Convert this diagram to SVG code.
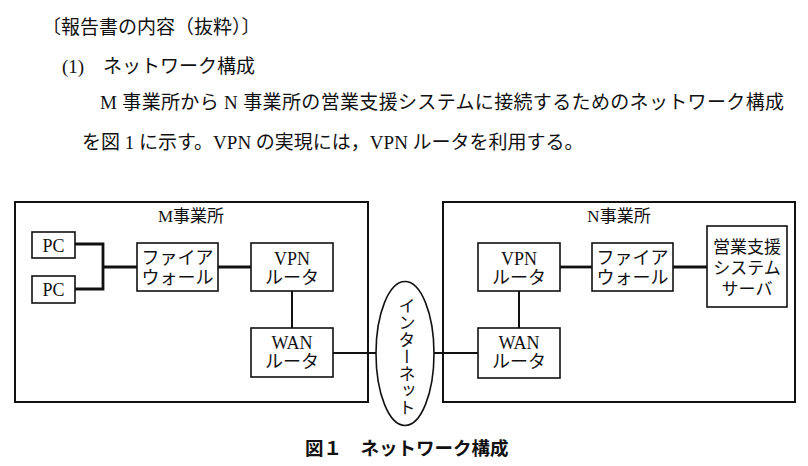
<svg xmlns="http://www.w3.org/2000/svg" width="808" height="466" viewBox="0 0 808 466">
<style>
  .t { font-family: "Liberation Serif", "Noto Sans CJK JP", serif; fill: #111; }
  .h { font-size: 19px; }
  .n { font-size: 18px; text-anchor: middle; }
  .cap { font-family: "Noto Sans CJK JP", "Liberation Sans", sans-serif; font-size: 18.5px; font-weight: bold; fill: #111; }
  .box { fill: #fff; stroke: #111; stroke-width: 1.6; }
  .office { fill: none; stroke: #111; stroke-width: 2; }
  .thick { fill: none; stroke: #111; stroke-width: 2.8; }
  .thin { fill: none; stroke: #111; stroke-width: 2; }
</style>
<rect width="808" height="466" fill="#fff"/>

<g id="header">
  <text class="t h" x="42" y="34">〔報告書の内容（抜粋）〕</text>
  <text class="t h" x="62" y="73">(1)</text>
  <text class="t h" x="103" y="73">ネットワーク構成</text>
  <text class="t h" x="100" y="109" textLength="684" lengthAdjust="spacing">M 事業所から N 事業所の営業支援システムに接続するためのネットワーク構成</text>
  <text class="t h" x="82" y="149">を図 1 に示す。VPN の実現には，VPN ルータを利用する。</text>
</g>

<g id="office-m">
  <rect class="office" x="15" y="202" width="353" height="200"/>
  <text class="t n" x="191" y="222" style="font-size:17px">M事業所</text>
</g>
<g id="office-n">
  <rect class="office" x="443" y="202" width="352" height="200"/>
  <text class="t n" x="619" y="222" style="font-size:17px">N事業所</text>
</g>

<g id="connectors">
  <polyline class="thick" points="75,244 103,244 103,289 75,289"/>
  <line class="thick" x1="103" y1="267" x2="137" y2="267"/>
  <line class="thick" x1="218" y1="267" x2="251" y2="267"/>
  <line class="thin" x1="292" y1="291" x2="292" y2="328"/>
  <line class="thin" x1="333" y1="353" x2="376" y2="353"/>
  <line class="thin" x1="434" y1="353" x2="478" y2="353"/>
  <line class="thin" x1="519" y1="328" x2="519" y2="291"/>
  <line class="thick" x1="560" y1="267" x2="592" y2="267"/>
  <line class="thick" x1="673" y1="267" x2="707" y2="267"/>
</g>

<g id="pc1">
  <rect class="box" x="32" y="232" width="43" height="26"/>
  <text class="t n" x="53.5" y="252">PC</text>
</g>
<g id="pc2">
  <rect class="box" x="32" y="276" width="43" height="27"/>
  <text class="t n" x="53.5" y="296">PC</text>
</g>
<g id="firewall-m">
  <rect class="box" x="137" y="243" width="81" height="48"/>
  <text class="t n" x="177.5" y="264">ファイア</text>
  <text class="t n" x="177.5" y="284">ウォール</text>
</g>
<g id="vpn-router-m">
  <rect class="box" x="251" y="243" width="82" height="48"/>
  <text class="t n" x="292" y="265">VPN</text>
  <text class="t n" x="292" y="284">ルータ</text>
</g>
<g id="wan-router-m">
  <rect class="box" x="251" y="328" width="82" height="49"/>
  <text class="t n" x="292" y="349">WAN</text>
  <text class="t n" x="292" y="368">ルータ</text>
</g>

<g id="internet">
  <ellipse class="box" cx="405" cy="353.5" rx="29" ry="72"/>
  <text class="t" x="405" y="357" writing-mode="vertical-rl" text-anchor="middle" style="font-size:17px">インターネット</text>
</g>

<g id="vpn-router-n">
  <rect class="box" x="478" y="243" width="82" height="48"/>
  <text class="t n" x="519" y="265">VPN</text>
  <text class="t n" x="519" y="284">ルータ</text>
</g>
<g id="wan-router-n">
  <rect class="box" x="478" y="328" width="82" height="50"/>
  <text class="t n" x="519" y="349">WAN</text>
  <text class="t n" x="519" y="368">ルータ</text>
</g>
<g id="firewall-n">
  <rect class="box" x="592" y="243" width="81" height="48"/>
  <text class="t n" x="632.5" y="264">ファイア</text>
  <text class="t n" x="632.5" y="284">ウォール</text>
</g>
<g id="sales-server">
  <rect class="box" x="707" y="226" width="80" height="81"/>
  <text class="t n" x="747" y="253" style="font-size:17px">営業支援</text>
  <text class="t n" x="747" y="274" style="font-size:17px">システム</text>
  <text class="t n" x="747" y="295" style="font-size:17px">サーバ</text>
</g>

<g id="caption">
  <text class="cap" x="305" y="455">図１　ネットワーク構成</text>
</g>
</svg>
